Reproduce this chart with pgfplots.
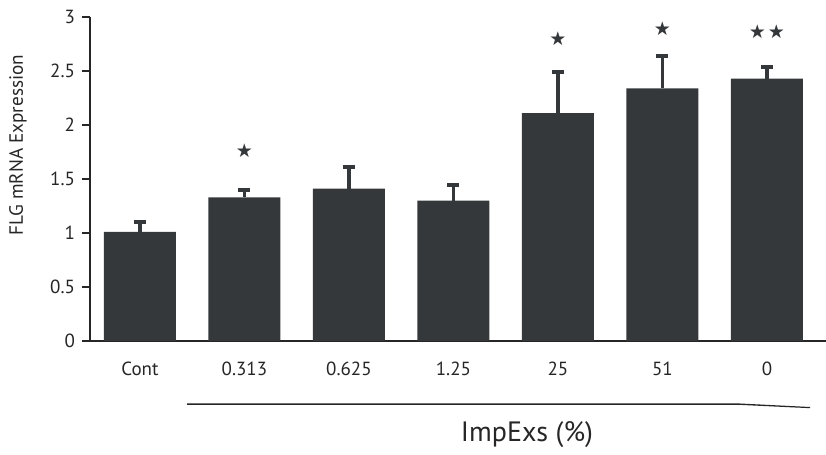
\documentclass[border=0pt]{standalone}
\usepackage{pgfplots}
\pgfplotsset{compat=1.18}
\usepackage{fontspec}
\setmainfont{PT Sans}
\newfontfamily\starfont{DejaVu Sans}
\definecolor{barcol}{HTML}{35383A}
\definecolor{axcol}{HTML}{262626}
\begin{document}
\begin{tikzpicture}
\path[use as bounding box] (-45pt,-57pt) rectangle (368pt,170.5pt);
\begin{axis}[
  scale only axis, width=368pt, height=162pt,
  at={(0,0)}, anchor=south west,
  xmin=-0.478, xmax=6.565, ymin=0, ymax=3,
  axis x line*=bottom, axis y line*=left,
  x axis line style={line width=1.4pt, draw=axcol, -},
  y axis line style={line width=1pt, draw=axcol, -},
  xtick={0,1,2,3,4,5,6},
  xticklabels={Cont,0.313,0.625,1.25,25,51,0},
  x tick style={draw=none},
  xticklabel style={font=\fontsize{9.5}{10}\selectfont, text=axcol, yshift=-3pt},
  ytick={0,0.5,1,1.5,2,2.5,3},
  y tick style={line width=1pt, draw=axcol},
  tick align=outside, major tick length=4pt,
  yticklabel style={font=\fontsize{9.5}{10}\selectfont, text=axcol},
  /pgf/number format/assume math mode=true,
  ylabel={FLG mRNA Expression},
  ylabel style={at={(axis description cs:-0.098,0.605)}, anchor=center, font=\fontsize{9.6}{10}\selectfont, text=axcol},
  clip=false,
]
\addplot[ybar, bar width=36pt, fill=barcol, draw=none,
  error bars/.cd, y dir=plus, y explicit,
  error bar style={line width=1.6pt, draw=barcol},
  error mark options={rotate=90, line width=2pt, mark size=3pt, draw=barcol}]
  table[x=x, y=y, y error=e] {
x y e
0 1.01 0.09
1 1.33 0.07
2 1.41 0.20
3 1.30 0.14
4 2.11 0.38
5 2.34 0.30
6 2.43 0.11
};
\addplot[draw=none, mark=none, nodes near coords={\starfont\fontsize{9.5}{10}\selectfont ★}, nodes near coords align=center, text=barcol]
  coordinates {(1,1.76) (4,2.80) (5,2.89)};
\addplot[draw=none, mark=none, nodes near coords={\starfont\fontsize{9.5}{10}\selectfont ★\kern1pt★}, nodes near coords align=center, text=barcol]
  coordinates {(6,2.86)};
\end{axis}
\fill[axcol] (48.5pt,-31.2pt) -- (324pt,-31.2pt) -- (360pt,-33pt) -- (360pt,-33.6pt) -- (324pt,-31.9pt) -- (48.5pt,-31.9pt) -- cycle;
\node[font=\fontsize{14}{16}\selectfont, text=axcol] at (218.5pt,-47pt) {ImpExs (\%)};
\end{tikzpicture}
\end{document}
